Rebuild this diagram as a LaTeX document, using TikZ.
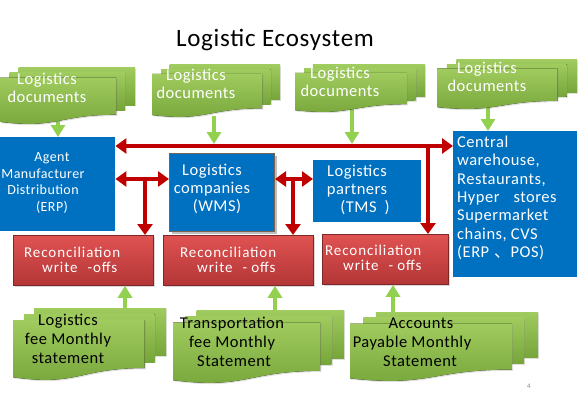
\documentclass[tikz,border=0pt]{standalone}
\usepackage{fontspec}
\setmainfont{Carlito}
\newfontfamily\cjk{Noto Sans CJK SC}
\usetikzlibrary{arrows.meta,shadows}
\definecolor{ecoblue}{HTML}{0070C0}
\definecolor{ecored}{HTML}{C00000}
\definecolor{ecogreenA}{HTML}{A0CB5E}
\definecolor{ecogreenB}{HTML}{76A53A}
\definecolor{ecogreenarrow}{HTML}{92D050}
\definecolor{ecoredA}{HTML}{E05252}
\definecolor{ecoredB}{HTML}{B33636}
\definecolor{ecoredline}{HTML}{7F2626}
\definecolor{ecoedge}{HTML}{7A6450}
\newcommand\ecosp[1]{\addfontfeature{LetterSpace=#1}}
\tikzset{
  docpage/.style={top color=ecogreenA, bottom color=ecogreenB,
    drop shadow={opacity=0.25, shadow xshift=1.2pt, shadow yshift=-1.2pt}},
  bluebox/.style={fill=ecoblue, inner sep=0pt, anchor=north west},
  redbox/.style={top color=ecoredA, bottom color=ecoredB, draw=ecoredline,
    line width=0.8pt, inner sep=0pt, anchor=north west,
    drop shadow={opacity=0.3, shadow xshift=1.5pt, shadow yshift=-1.5pt}},
  doctxt/.style={text=white, align=center, inner sep=0pt,
    font=\fontsize{16.5}{17.5}\selectfont\ecosp{3}},
  btxt/.style={text=black, align=center, inner sep=0pt,
    font=\fontsize{16.5}{18.8}\selectfont\ecosp{3}},
  bluetxt/.style={text=white, align=center, inner sep=0pt,
    font=\fontsize{16.5}{18}\selectfont\ecosp{3}},
  redtxt/.style={text=white, align=left, inner sep=0pt, anchor=west,
    font=\fontsize{15}{15.5}\selectfont\ecosp{6}},
  redarrow/.style={draw=ecored, line width=4pt, -{Triangle[width=15pt,length=11pt]}},
  redboth/.style={draw=ecored, line width=4pt,
    {Triangle[width=15pt,length=11pt]}-{Triangle[width=15pt,length=11pt]}},
  greenarrow/.style={draw=ecogreenarrow, line width=4.5pt,
    -{Triangle[width=14pt,length=12pt]}},
}
% multidocument shape: x y w h (pixel units, y downward)
\newcommand\ecodoc[4]{%
  \fill[docpage] ({#1+0.1376*#3},{#2}) rectangle ({#1+#3},{#2+0.666*#4});
  \fill[docpage] ({#1+0.0709*#3},{#2+0.084*#4}) rectangle ({#1+0.926*#3},{#2+0.752*#4});
  \fill[docpage] (#1,{#2+0.17*#4}) -- ({#1+0.861*#3},{#2+0.17*#4})
    -- ({#1+0.861*#3},{#2+0.834*#4})
    .. controls ({#1+0.43*#3},{#2+0.834*#4}) and ({#1+0.43*#3},{#2+1.09*#4}) ..
    (#1,{#2+0.962*#4}) -- cycle;
}
\begin{document}
\begin{tikzpicture}[x=1pt,y=-1pt]
\useasboundingbox[fill=white] (0,0) rectangle (580,409);

% title
\node[font=\fontsize{25}{27}\selectfont\ecosp{3}, inner sep=0pt] (title) at (275,40) {Logistic Ecosystem};

% boxes
\node[bluebox, minimum width=115pt, minimum height=94pt] (agent) at (0,137) {};
\node[bluebox, draw=ecoedge, line width=1pt, minimum width=105pt, minimum height=78pt,
  drop shadow={opacity=0.5, shadow xshift=2pt, shadow yshift=-2pt}] (wms) at (169,153) {};
\node[bluebox, minimum width=108pt, minimum height=62pt] (tms) at (313,160) {};
\node[bluebox, minimum width=124pt, minimum height=146pt] (central) at (453,131) {};
\node[redbox, minimum width=140pt, minimum height=50pt] (r1) at (13,235) {};
\node[redbox, minimum width=150pt, minimum height=50pt] (r2) at (163,235) {};
\node[redbox, minimum width=126pt, minimum height=50pt] (r3) at (322,234) {};

% green arrow start points
\coordinate (g1) at (58,118);
\coordinate (g2) at (214,116);
\coordinate (g3) at (352,108);
\coordinate (g4) at (488,105);
\coordinate (g5) at (125,312);
\coordinate (g6) at (275,314);
\coordinate (g7) at (393,316);
\coordinate (lineY) at (0,146);

\draw[greenarrow] (g1) -- (g1 |- agent.north);
\draw[greenarrow] (g2) -- ([yshift=2pt]g2 |- lineY);
\draw[greenarrow] (g3) -- ([yshift=2pt]g3 |- lineY);
\draw[greenarrow] (g4) -- (g4 |- central.north);
\draw[greenarrow] (g5) -- (g5 |- r1.south);
\draw[greenarrow] (g6) -- (g6 |- r2.south);
\draw[greenarrow] (g7) -- (g7 |- r3.south);

% documents
\ecodoc{0}{68}{135}{56}
\ecodoc{152}{65}{128}{52}
\ecodoc{295}{65}{130}{47}
\ecodoc{437}{60}{140}{49}
\ecodoc{13}{308}{153}{72}
\ecodoc{173}{310}{171}{73}
\ecodoc{350}{312}{188}{69}

% red connectors
\coordinate (j1) at (145,179);
\coordinate (j2) at (293,179);
\coordinate (j3) at (428,146);
\draw[redboth] (agent.east |- lineY) -- (central.west |- lineY);
\draw[redarrow] ([yshift=-2pt]j3) -- (j3 |- r3.north);
\draw[redboth] (agent.east |- j1) -- (wms.west |- j1);
\draw[redarrow] (j1) -- (j1 |- r1.north);
\draw[redboth] (wms.east |- j2) -- (tms.west |- j2);
\draw[redarrow] (j2) -- (j2 |- r2.north);

% texts
\node[doctxt] (t1) at (47,88) {Logistics\\documents};
\node[doctxt] (t2) at (196,84) {Logistics\\documents};
\node[doctxt] (t3) at (340,82) {Logistics\\documents};
\node[doctxt] (t4) at (487,77) {Logistics\\documents};

\node[bluetxt, font=\fontsize{14}{16.5}\selectfont\ecosp{3}] (agenttxt) at (43,183)
  {\hspace*{18pt}Agent\\Manufacturer\\Distribution\\\hspace*{18pt}(ERP)};
\node[bluetxt] (wmstxt) at (212,189) {Logistics\\companies\\\hspace*{10pt}(WMS)};
\node[bluetxt] (tmstxt) at (357,190) {Logistics\\partners\\\hspace*{16pt}(TMS\hspace{8pt})};
\node[bluetxt, align=left, anchor=west, font=\fontsize{16.5}{18.3}\selectfont\ecosp{3}] (centraltxt) at (457,198)
  {Central\\warehouse,\\Restaurants,\\Hyper\hspace{14pt}stores\\Supermarket\\chains, CVS\\(ERP\hspace{5pt}{\cjk 、}POS)};

\node[redtxt] (r1txt) at (24,260) {Reconciliation\\\hspace*{18pt}write\hspace{10pt}-offs};
\node[redtxt] (r2txt) at (180,260) {Reconciliation\\\hspace*{17pt}write\hspace{10pt}- offs};
\node[redtxt] (r3txt) at (325,258) {Reconciliation\\\hspace*{18pt}write\hspace{10pt}- offs};

\node[btxt] (b1txt) at (68,339) {Logistics\\fee Monthly\\statement};
\node[btxt] (b2txt) at (232,342) {Transportation\\fee Monthly\\\hspace*{4pt}Statement};
\node[btxt] (b3txt) at (412,342) {\hspace*{18pt}Accounts\\Payable Monthly\\\hspace*{16pt}Statement};

\node[text=black!45, font=\fontsize{7}{8}\selectfont, inner sep=0pt] (pagenum) at (529,386) {4};
\end{tikzpicture}
\end{document}
